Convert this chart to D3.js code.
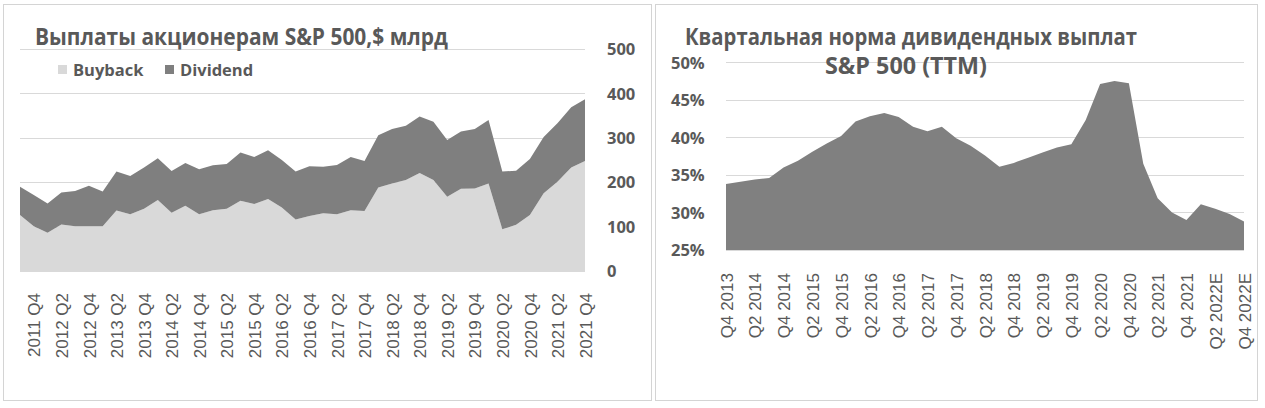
<!DOCTYPE html>
<html><head><meta charset="utf-8">
<script src="https://cdn.jsdelivr.net/npm/d3@7"></script>
<style>
html,body{margin:0;padding:0;background:#fff;}
svg{display:block;}
</style></head>
<body>
<svg id="c" width="1265" height="408"></svg>
<script>
// ---------- DATA ----------
const leftQuarters = ["2011 Q3","2011 Q4",
 "2012 Q1","2012 Q2","2012 Q3","2012 Q4",
 "2013 Q1","2013 Q2","2013 Q3","2013 Q4",
 "2014 Q1","2014 Q2","2014 Q3","2014 Q4",
 "2015 Q1","2015 Q2","2015 Q3","2015 Q4",
 "2016 Q1","2016 Q2","2016 Q3","2016 Q4",
 "2017 Q1","2017 Q2","2017 Q3","2017 Q4",
 "2018 Q1","2018 Q2","2018 Q3","2018 Q4",
 "2019 Q1","2019 Q2","2019 Q3","2019 Q4",
 "2020 Q1","2020 Q2","2020 Q3","2020 Q4",
 "2021 Q1","2021 Q2","2021 Q3","2021 Q4"];
const buyback = [126,101,86,105,101,101,101,136,128,140,160,131,147,128,137,140,158,151,162,143,116,124,130,128,137,135,188,197,205,221,205,167,185,186,197,94,104,126,175,201,233,248];
const dividend = [64,70,66,72,79,91,78,88,86,93,94,94,96,101,101,101,109,106,110,107,108,112,105,111,120,113,118,123,122,127,131,128,129,134,143,130,122,126,127,132,136,139];
const leftTicks = [0,100,200,300,400,500];
const leftTitle = "Выплаты акционерам S&P 500,$ млрд";
const leftSeries = ["Buyback","Dividend"];

const rightQuarters = ["Q4 2013",
 "Q1 2014","Q2 2014","Q3 2014","Q4 2014",
 "Q1 2015","Q2 2015","Q3 2015","Q4 2015",
 "Q1 2016","Q2 2016","Q3 2016","Q4 2016",
 "Q1 2017","Q2 2017","Q3 2017","Q4 2017",
 "Q1 2018","Q2 2018","Q3 2018","Q4 2018",
 "Q1 2019","Q2 2019","Q3 2019","Q4 2019",
 "Q1 2020","Q2 2020","Q3 2020","Q4 2020",
 "Q1 2021","Q2 2021","Q3 2021","Q4 2021",
 "Q1 2022E","Q2 2022E","Q3 2022E","Q4 2022E"];
const payout = [33.8,34.1,34.4,34.6,36.0,36.9,38.1,39.2,40.2,42.1,42.8,43.25,42.7,41.4,40.8,41.4,39.9,38.9,37.6,36.1,36.6,37.3,38.0,38.65,39.1,42.3,47.1,47.5,47.2,36.5,31.9,30.0,29.0,31.1,30.5,29.8,28.8];
const rightTicks = [25,30,35,40,45,50];
const rightTitle = ["Квартальная норма дивидендных выплат","S&P 500 (TTM)"];

// ---------- STYLE ----------
const TXT = "#595959", GRID = "#d9d9d9", BORDER = "#d4d4d4";
const LIGHT = "#d9d9d9", DARK = "#7f7f7f";
const BOLD = "'Open Sans', 'DejaVu Sans', sans-serif";
const AX = "'Liberation Sans', Arial, sans-serif";

const svg = d3.select("#c");

// panels
svg.append("rect").attr("x",3.5).attr("y",4.5).attr("width",648).attr("height",396)
  .attr("fill","#fff").attr("stroke",BORDER);
svg.append("rect").attr("x",655.5).attr("y",4.5).attr("width",602).attr("height",396)
  .attr("fill","#fff").attr("stroke",BORDER);

function title(x, y, txt, w, anchor){
  return svg.append("text").attr("x",x).attr("y",y).attr("text-anchor",anchor||"start").text(txt)
    .attr("font-family",BOLD).attr("font-weight",700).attr("font-size",22.5).attr("fill",TXT)
    .attr("textLength",w).attr("lengthAdjust","spacingAndGlyphs");
}

// ---------- LEFT CHART ----------
{
  const x = d3.scalePoint().domain(leftQuarters).range([20,585]);
  const y = d3.scaleLinear().domain([0,500]).range([271,49]);
  const g = svg.append("g");
  g.selectAll("line.grid").data(leftTicks).join("line")
    .attr("x1",20).attr("x2",585)
    .attr("y1",d=>Math.round(y(d))+0.5).attr("y2",d=>Math.round(y(d))+0.5)
    .attr("stroke",GRID).attr("stroke-width",1);

  const rows = leftQuarters.map((q,i)=>({q, Buyback:buyback[i], Dividend:dividend[i]}));
  const stack = d3.stack().keys(leftSeries)(rows);
  const area = d3.area().x(d=>x(d.data.q)).y0(d=>y(d[0])).y1(d=>y(d[1]));
  const cols = [LIGHT, DARK];
  g.selectAll("path.a").data(stack).join("path")
    .attr("d",area).attr("fill",(d,i)=>cols[i]);

  const ya = d3.axisRight(y).tickValues(leftTicks).tickSize(0).tickPadding(0);
  const yg = g.append("g").attr("transform","translate(607,0)").call(ya);
  yg.select(".domain").remove();
  yg.selectAll("text").attr("font-family",BOLD).attr("font-weight",700)
    .attr("font-size",16.5).attr("fill",TXT).attr("text-anchor","start").attr("dy","0.35em");

  const xa = d3.axisBottom(x).tickValues(leftQuarters.filter((d,i)=>i%2===1)).tickSize(0);
  const xg = g.append("g").attr("transform","translate(0,293)").call(xa);
  xg.select(".domain").remove();
  xg.selectAll("text").attr("transform","rotate(-90)").attr("x",0).attr("y",0)
    .attr("dy","0.36em").attr("text-anchor","end")
    .attr("font-family",AX).attr("font-size",17).attr("fill",TXT);

  title(35, 45, leftTitle, 413);

  // legend
  const lx = [58,165];
  leftSeries.forEach((s,i)=>{
    svg.append("rect").attr("x",lx[i]).attr("y",65).attr("width",9).attr("height",9).attr("fill",cols[i]);
    svg.append("text").attr("x",lx[i]+15).attr("y",75.5).text(s)
      .attr("font-family",BOLD).attr("font-weight",700).attr("font-size",16.5).attr("fill",TXT);
  });
}

// ---------- RIGHT CHART ----------
{
  const x = d3.scalePoint().domain(rightQuarters).range([726,1244]);
  const y = d3.scaleLinear().domain([25,50]).range([250,62.3]);
  const g = svg.append("g");
  g.selectAll("line.grid").data(rightTicks).join("line")
    .attr("x1",726).attr("x2",1244)
    .attr("y1",d=>Math.round(y(d))+0.5).attr("y2",d=>Math.round(y(d))+0.5)
    .attr("stroke",GRID).attr("stroke-width",1);

  const area = d3.area().x((d,i)=>x(rightQuarters[i])).y0(y(25)).y1(d=>y(d));
  g.append("path").attr("d",area(payout)).attr("fill","#808080");

  const ya = d3.axisLeft(y).tickValues(rightTicks).tickSize(0).tickPadding(0).tickFormat(d=>d+"%");
  const yg = g.append("g").attr("transform","translate(671,0)").call(ya);
  yg.select(".domain").remove();
  yg.selectAll("text").attr("font-family",BOLD).attr("font-weight",700)
    .attr("font-size",16.5).attr("fill",TXT).attr("text-anchor","start").attr("dy","0.35em");

  const xa = d3.axisBottom(x).tickValues(rightQuarters.filter((d,i)=>i%2===0)).tickSize(0);
  const xg = g.append("g").attr("transform","translate(0,273)").call(xa);
  xg.select(".domain").remove();
  xg.selectAll("text").attr("transform","rotate(-90)").attr("x",0).attr("y",0)
    .attr("dy","0.36em").attr("text-anchor","end")
    .attr("font-family",AX).attr("font-size",17).attr("fill",TXT);

  title(911, 45, rightTitle[0], 452, "middle");
  title(906, 74, rightTitle[1], 162, "middle");
}
</script>
</body></html>
